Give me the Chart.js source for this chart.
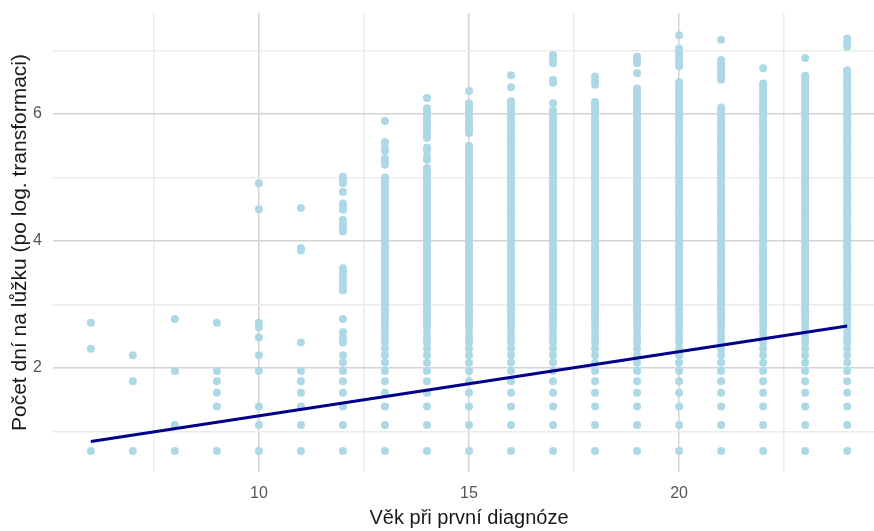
<!DOCTYPE html>
<html lang="cs">
<head>
<meta charset="utf-8">
<title>Počet dní na lůžku podle věku</title>
<script src="https://cdn.jsdelivr.net/npm/chart.js@4"></script>
<style>
  html, body { margin: 0; padding: 0; background: #ffffff; overflow: hidden; }
  #obal { width: 874px; height: 531px; overflow: hidden; }
  #graf { display: block; }
</style>
</head>
<body>
<div id="obal"><canvas id="graf" width="892" height="531"></canvas></div>
<script>
// Věk při první diagnóze (kategorie na ose x)
const vekKategorie = [6, 7, 8, 9, 10, 11, 12, 13, 14, 15, 16, 17, 18, 19, 20, 21, 22, 23, 24];

// Hodnoty log(počet dní), jeden seznam pro každý věk
const bodyPodleVeku = [
  [0.69, 2.3, 2.71],
  [0.69, 1.79, 2.2],
  [0.69, 1.1, 1.95, 2.77],
  [0.69, 1.39, 1.61, 1.79, 1.95, 2.71],
  [0.69, 1.1, 1.39, 1.95, 2.2, 2.48, 2.64, 2.71, 4.5, 4.91],
  [0.69, 1.1, 1.39, 1.61, 1.79, 1.95, 2.4, 3.85, 3.89, 4.52],
  [0.69, 1.1, 1.39, 1.61, 1.79, 1.95, 2.08, 2.2, 2.4, 2.48, 2.56, 2.77, 3.22, 3.29, 3.36, 3.43, 3.5, 3.57,
   4.15, 4.21, 4.27, 4.33, 4.49, 4.55, 4.59, 4.77, 4.91, 4.96, 5.01],
  // 13
  [0.69, 1.1, 1.39, 1.61, 1.79, 1.95, 2.08, 2.2, 2.3, 2.4, 2.48, 2.56, 2.64, 2.71, 2.77, 2.83, 2.89, 2.94,
   3, 3.05, 3.1, 3.15, 3.2, 3.25, 3.3, 3.35, 3.4, 3.45, 3.5, 3.55, 3.6, 3.65, 3.7, 3.75, 3.8, 3.85, 3.9, 3.95,
   4, 4.05, 4.1, 4.15, 4.2, 4.25, 4.3, 4.35, 4.4, 4.45, 4.5, 4.55, 4.6, 4.65, 4.7, 4.75, 4.8, 4.85, 4.9, 4.95,
   5, 5.2, 5.25, 5.3, 5.42, 5.47, 5.56, 5.89],
  // 14
  [0.69, 1.1, 1.39, 1.61, 1.79, 1.95, 2.08, 2.2, 2.3, 2.4, 2.48, 2.56, 2.64, 2.71, 2.77, 2.83, 2.89, 2.94,
   3, 3.05, 3.1, 3.15, 3.2, 3.25, 3.3, 3.35, 3.4, 3.45, 3.5, 3.55, 3.6, 3.65, 3.7, 3.75, 3.8, 3.85, 3.9, 3.95,
   4, 4.05, 4.1, 4.15, 4.2, 4.25, 4.3, 4.35, 4.4, 4.45, 4.5, 4.55, 4.6, 4.65, 4.7, 4.75, 4.8, 4.85, 4.9, 4.95,
   5, 5.05, 5.1, 5.15, 5.28, 5.33, 5.43, 5.47, 5.62, 5.7, 5.75, 5.8, 5.85, 5.9, 5.95, 6, 6.05, 6.09, 6.25],
  // 15
  [0.69, 1.1, 1.39, 1.61, 1.79, 1.95, 2.08, 2.2, 2.3, 2.4, 2.48, 2.56, 2.64, 2.71, 2.77, 2.83, 2.89, 2.94,
   3, 3.05, 3.1, 3.15, 3.2, 3.25, 3.3, 3.35, 3.4, 3.45, 3.5, 3.55, 3.6, 3.65, 3.7, 3.75, 3.8, 3.85, 3.9, 3.95,
   4, 4.05, 4.1, 4.15, 4.2, 4.25, 4.3, 4.35, 4.4, 4.45, 4.5, 4.55, 4.6, 4.65, 4.7, 4.75, 4.8, 4.85, 4.9, 4.95,
   5, 5.05, 5.1, 5.15, 5.2, 5.25, 5.3, 5.35, 5.4, 5.45, 5.5, 5.7, 5.75, 5.8, 5.85, 5.9, 5.95, 6, 6.05, 6.1,
   6.17, 6.36],
  // 16
  [0.69, 1.1, 1.39, 1.61, 1.79, 1.95, 2.08, 2.2, 2.3, 2.4, 2.48, 2.56, 2.64, 2.71, 2.77, 2.83, 2.89, 2.94,
   3, 3.05, 3.1, 3.15, 3.2, 3.25, 3.3, 3.35, 3.4, 3.45, 3.5, 3.55, 3.6, 3.65, 3.7, 3.75, 3.8, 3.85, 3.9, 3.95,
   4, 4.05, 4.1, 4.15, 4.2, 4.25, 4.3, 4.35, 4.4, 4.45, 4.5, 4.55, 4.6, 4.65, 4.7, 4.75, 4.8, 4.85, 4.9, 4.95,
   5, 5.05, 5.1, 5.15, 5.2, 5.25, 5.3, 5.35, 5.4, 5.45, 5.5, 5.55, 5.6, 5.65, 5.7, 5.75, 5.8, 5.85, 5.9, 5.95,
   6, 6.05, 6.1, 6.15, 6.2, 6.42, 6.61],
  // 17
  [0.69, 1.1, 1.39, 1.61, 1.79, 1.95, 2.08, 2.2, 2.3, 2.4, 2.48, 2.56, 2.64, 2.71, 2.77, 2.83, 2.89, 2.94,
   3, 3.05, 3.1, 3.15, 3.2, 3.25, 3.3, 3.35, 3.4, 3.45, 3.5, 3.55, 3.6, 3.65, 3.7, 3.75, 3.8, 3.85, 3.9, 3.95,
   4, 4.05, 4.1, 4.15, 4.2, 4.25, 4.3, 4.35, 4.4, 4.45, 4.5, 4.55, 4.6, 4.65, 4.7, 4.75, 4.8, 4.85, 4.9, 4.95,
   5, 5.05, 5.1, 5.15, 5.2, 5.25, 5.3, 5.35, 5.4, 5.45, 5.5, 5.55, 5.6, 5.65, 5.7, 5.75, 5.8, 5.85,
   5.91, 5.96, 6.01, 6.06, 6.17, 6.49, 6.54, 6.8, 6.86, 6.93],
  // 18
  [0.69, 1.1, 1.39, 1.61, 1.79, 1.95, 2.08, 2.2, 2.3, 2.4, 2.48, 2.56, 2.64, 2.71, 2.77, 2.83, 2.89, 2.94,
   3, 3.05, 3.1, 3.15, 3.2, 3.25, 3.3, 3.35, 3.4, 3.45, 3.5, 3.55, 3.6, 3.65, 3.7, 3.75, 3.8, 3.85, 3.9, 3.95,
   4, 4.05, 4.1, 4.15, 4.2, 4.25, 4.3, 4.35, 4.4, 4.45, 4.5, 4.55, 4.6, 4.65, 4.7, 4.75, 4.8, 4.85, 4.9, 4.95,
   5, 5.05, 5.1, 5.15, 5.2, 5.25, 5.3, 5.35, 5.4, 5.45, 5.5, 5.55, 5.6, 5.65, 5.7, 5.75, 5.8, 5.85, 5.9, 5.95,
   6, 6.05, 6.1, 6.15, 6.19, 6.46, 6.52, 6.59],
  // 19
  [0.69, 1.1, 1.39, 1.61, 1.79, 1.95, 2.08, 2.2, 2.3, 2.4, 2.48, 2.56, 2.64, 2.71, 2.77, 2.83, 2.89, 2.94,
   3, 3.05, 3.1, 3.15, 3.2, 3.25, 3.3, 3.35, 3.4, 3.45, 3.5, 3.55, 3.6, 3.65, 3.7, 3.75, 3.8, 3.85, 3.9, 3.95,
   4, 4.05, 4.1, 4.15, 4.2, 4.25, 4.3, 4.35, 4.4, 4.45, 4.5, 4.55, 4.6, 4.65, 4.7, 4.75, 4.8, 4.85, 4.9, 4.95,
   5, 5.05, 5.1, 5.15, 5.2, 5.25, 5.3, 5.35, 5.4, 5.45, 5.5, 5.55, 5.6, 5.65, 5.7, 5.75, 5.8, 5.85, 5.9, 5.95,
   6, 6.05, 6.1, 6.15, 6.2, 6.25, 6.3, 6.35, 6.4, 6.64, 6.8, 6.85, 6.9],
  // 20
  [0.69, 1.1, 1.39, 1.61, 1.79, 1.95, 2.08, 2.2, 2.3, 2.4, 2.48, 2.56, 2.64, 2.71, 2.77, 2.83, 2.89, 2.94,
   3, 3.05, 3.1, 3.15, 3.2, 3.25, 3.3, 3.35, 3.4, 3.45, 3.5, 3.55, 3.6, 3.65, 3.7, 3.75, 3.8, 3.85, 3.9, 3.95,
   4, 4.05, 4.1, 4.15, 4.2, 4.25, 4.3, 4.35, 4.4, 4.45, 4.5, 4.55, 4.6, 4.65, 4.7, 4.75, 4.8, 4.85, 4.9, 4.95,
   5, 5.05, 5.1, 5.15, 5.2, 5.25, 5.3, 5.35, 5.4, 5.45, 5.5, 5.55, 5.6, 5.65, 5.7, 5.75, 5.8, 5.85, 5.9, 5.95,
   6, 6.05, 6.1, 6.15, 6.2, 6.25, 6.3, 6.35, 6.4, 6.45, 6.5, 6.75, 6.8, 6.86, 6.92, 6.97, 7.03, 7.24],
  // 21
  [0.69, 1.1, 1.39, 1.61, 1.79, 1.95, 2.08, 2.2, 2.3, 2.4, 2.48, 2.56, 2.64, 2.71, 2.77, 2.83, 2.89, 2.94,
   3, 3.05, 3.1, 3.15, 3.2, 3.25, 3.3, 3.35, 3.4, 3.45, 3.5, 3.55, 3.6, 3.65, 3.7, 3.75, 3.8, 3.85, 3.9, 3.95,
   4, 4.05, 4.1, 4.15, 4.2, 4.25, 4.3, 4.35, 4.4, 4.45, 4.5, 4.55, 4.6, 4.65, 4.7, 4.75, 4.8, 4.85, 4.9, 4.95,
   5, 5.05, 5.1, 5.15, 5.2, 5.25, 5.3, 5.35, 5.4, 5.45, 5.5, 5.55, 5.6, 5.65, 5.7, 5.75, 5.8, 5.85, 5.9, 5.95,
   6, 6.05, 6.1, 6.54, 6.59, 6.64, 6.69, 6.74, 6.8, 6.85, 7.17],
  // 22
  [0.69, 1.1, 1.39, 1.61, 1.79, 1.95, 2.08, 2.2, 2.3, 2.4, 2.48, 2.56, 2.64, 2.71, 2.77, 2.83, 2.89, 2.94,
   3, 3.05, 3.1, 3.15, 3.2, 3.25, 3.3, 3.35, 3.4, 3.45, 3.5, 3.55, 3.6, 3.65, 3.7, 3.75, 3.8, 3.85, 3.9, 3.95,
   4, 4.05, 4.1, 4.15, 4.2, 4.25, 4.3, 4.35, 4.4, 4.45, 4.5, 4.55, 4.6, 4.65, 4.7, 4.75, 4.8, 4.85, 4.9, 4.95,
   5, 5.05, 5.1, 5.15, 5.2, 5.25, 5.3, 5.35, 5.4, 5.45, 5.5, 5.55, 5.6, 5.65, 5.7, 5.75, 5.8, 5.85, 5.9, 5.95,
   6, 6.05, 6.1, 6.15, 6.2, 6.25, 6.3, 6.35, 6.4, 6.45, 6.48, 6.72],
  // 23
  [0.69, 1.1, 1.39, 1.61, 1.79, 1.95, 2.08, 2.2, 2.3, 2.4, 2.48, 2.56, 2.64, 2.71, 2.77, 2.83, 2.89, 2.94,
   3, 3.05, 3.1, 3.15, 3.2, 3.25, 3.3, 3.35, 3.4, 3.45, 3.5, 3.55, 3.6, 3.65, 3.7, 3.75, 3.8, 3.85, 3.9, 3.95,
   4, 4.05, 4.1, 4.15, 4.2, 4.25, 4.3, 4.35, 4.4, 4.45, 4.5, 4.55, 4.6, 4.65, 4.7, 4.75, 4.8, 4.85, 4.9, 4.95,
   5, 5.05, 5.1, 5.15, 5.2, 5.25, 5.3, 5.35, 5.4, 5.45, 5.5, 5.55, 5.6, 5.65, 5.7, 5.75, 5.8, 5.85, 5.9, 5.95,
   6, 6.05, 6.1, 6.15, 6.2, 6.25, 6.3, 6.35, 6.4, 6.45, 6.5, 6.55, 6.6, 6.88],
  // 24
  [0.69, 1.1, 1.39, 1.61, 1.79, 1.95, 2.08, 2.2, 2.3, 2.4, 2.48, 2.56, 2.64, 2.71, 2.77, 2.83, 2.89, 2.94,
   3, 3.05, 3.1, 3.15, 3.2, 3.25, 3.3, 3.35, 3.4, 3.45, 3.5, 3.55, 3.6, 3.65, 3.7, 3.75, 3.8, 3.85, 3.9, 3.95,
   4, 4.05, 4.1, 4.15, 4.2, 4.25, 4.3, 4.35, 4.4, 4.45, 4.5, 4.55, 4.6, 4.65, 4.7, 4.75, 4.8, 4.85, 4.9, 4.95,
   5, 5.05, 5.1, 5.15, 5.2, 5.25, 5.3, 5.35, 5.4, 5.45, 5.5, 5.55, 5.6, 5.65, 5.7, 5.75, 5.8, 5.85, 5.9, 5.95,
   6, 6.05, 6.1, 6.15, 6.2, 6.25, 6.3, 6.35, 6.4, 6.45, 6.5, 6.55, 6.6, 6.65, 6.69, 7.06, 7.12, 7.19]
];

// Regresní přímka (lineární model)
const primkaX = [6, 24];
const primkaY = [0.84, 2.66];

// Mřížka a popisky os
const osaXMrizka = [7.5, 10, 12.5, 15, 17.5, 20, 22.5];
const osaXPopisky = [10, 15, 20];
const osaYMrizka = [1, 2, 3, 4, 5, 6, 7];
const osaYPopisky = [2, 4, 6];

const PISMO = "'Liberation Sans', Arial, sans-serif";
const barvaHlavni = '#d4d4d4';
const barvaVedlejsi = '#ebebeb';

// Body pro scatter
const body = [];
vekKategorie.forEach((vek, i) => {
  bodyPodleVeku[i].forEach(y => body.push({ x: vek, y: y }));
});

const primka = primkaX.map((x, i) => ({ x: x, y: primkaY[i] }));

new Chart(document.getElementById('graf'), {
  type: 'scatter',
  data: {
    datasets: [
      {
        type: 'line',
        data: primka,
        borderColor: '#00008b',
        borderWidth: 3,
        pointRadius: 0,
        fill: false,
        order: 0
      },
      {
        data: body,
        backgroundColor: '#add8e6',
        borderWidth: 0,
        pointRadius: 4,
        pointHoverRadius: 4,
        order: 1
      }
    ]
  },
  options: {
    responsive: false,
    animation: false,
    layout: { padding: { top: 13, right: 7, left: 0, bottom: 0 } },
    plugins: {
      legend: { display: false },
      tooltip: { enabled: false }
    },
    scales: {
      x: {
        type: 'linear',
        min: 5.1,
        max: 24.9,
        afterBuildTicks: s => { s.ticks = osaXMrizka.map(v => ({ value: v })); },
        afterFit: s => { s.height = 59; s.paddingLeft = 0; s.paddingRight = 0; },
        border: { display: false },
        grid: {
          drawTicks: false,
          lineWidth: 1.5,
          color: c => osaXPopisky.includes(c.tick.value) ? barvaHlavni : barvaVedlejsi
        },
        ticks: {
          autoSkip: false,
          maxRotation: 0,
          padding: 12,
          color: '#555555',
          font: { family: PISMO, size: 16 },
          callback: v => osaXPopisky.includes(v) ? String(v) : ''
        },
        title: {
          display: true,
          text: 'Věk při první diagnóze',
          color: '#1a1a1a',
          font: { family: PISMO, size: 20, lineHeight: 1.2 },
          padding: { top: 0, bottom: 1 }
        }
      },
      y: {
        type: 'linear',
        min: 0.36,
        max: 7.59,
        afterBuildTicks: s => { s.ticks = osaYMrizka.map(v => ({ value: v })); },
        afterFit: s => { s.width = 53; s.paddingTop = 0; s.paddingBottom = 0; },
        border: { display: false },
        grid: {
          drawTicks: false,
          lineWidth: 1.5,
          color: c => osaYPopisky.includes(c.tick.value) ? barvaHlavni : barvaVedlejsi
        },
        ticks: {
          autoSkip: false,
          padding: 11,
          color: '#555555',
          font: { family: PISMO, size: 16 },
          callback: v => osaYPopisky.includes(v) ? String(v) : ''
        },
        title: {
          display: true,
          text: 'Počet dní na lůžku (po log. transformaci)',
          color: '#1a1a1a',
          font: { family: PISMO, size: 21, lineHeight: 1.2 },
          padding: { top: 8, bottom: 0 }
        }
      }
    }
  }
});
</script>
</body>
</html>
